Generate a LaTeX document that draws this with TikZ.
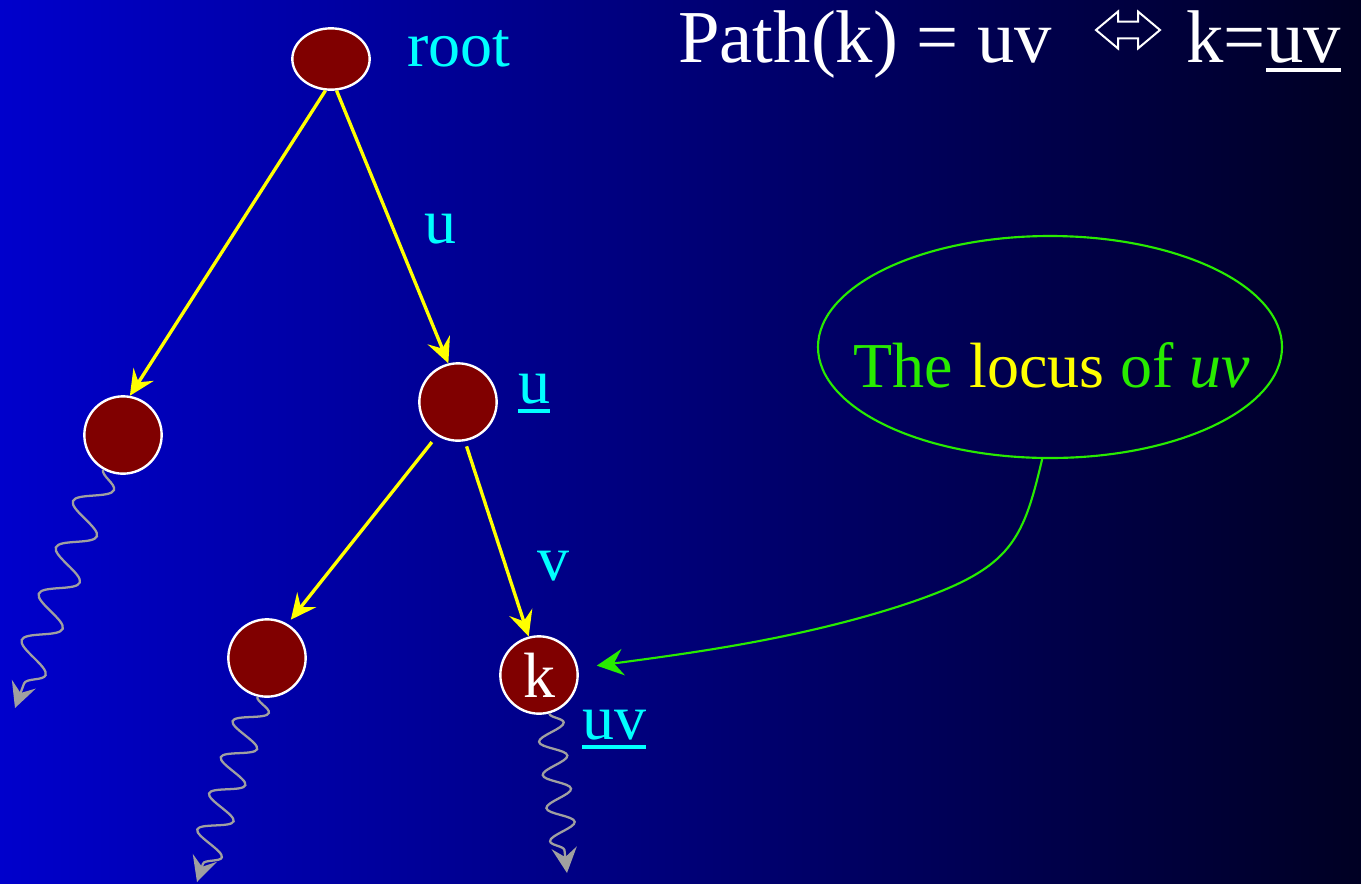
\documentclass[tikz,border=0pt]{standalone}
\usepackage{fontspec}
\setmainfont{Liberation Serif}
\usetikzlibrary{shapes.geometric,shapes.arrows,arrows.meta,decorations.pathmorphing}
\definecolor{bgL}{RGB}{0,0,204}
\definecolor{bgR}{RGB}{0,0,35}
\definecolor{nodered}{RGB}{128,0,0}
\definecolor{yel}{RGB}{255,255,0}
\definecolor{cyanc}{RGB}{0,255,255}
\definecolor{grn}{RGB}{40,235,0}
\definecolor{wgray}{RGB}{160,160,160}
\newcommand{\myul}[1]{\leavevmode\setbox0=\hbox{#1}\rlap{\rule[-7.5pt]{\wd0}{3pt}}\box0}
\tikzset{
  treenode/.style={circle, fill=nodered, draw=white, line width=1.8pt, minimum size=58pt, inner sep=0pt},
  rootnode/.style={ellipse, fill=nodered, draw=white, line width=1.8pt, minimum width=58pt, minimum height=46pt, inner sep=0pt},
  yarrow/.style={draw=yel, line width=2.5pt, -{Stealth[length=19pt,width=18pt,inset=7pt]}},
  wave/.style={draw=wgray, line width=1.7pt, decorate, -{Stealth[length=19pt,width=19pt,inset=7pt]}},
  lbl/.style={font=\fontsize{48}{56}\selectfont, text=cyanc, inner sep=0pt, anchor=base west},
  titletext/.style={font=\fontsize{56}{64}\selectfont, text=white, inner sep=0pt},
  gline/.style={draw=grn, line width=1.6pt},
}
\begin{document}
\begin{tikzpicture}[x=0.75pt,y=-0.75pt]
\useasboundingbox (0,0) rectangle (1361,883);
\shade[left color=bgL, right color=bgR] (0,0) rectangle (1361,883);

% tree nodes
\node[rootnode] (root) at (331,59) {};
\node[treenode] (left) at (123,435) {};
\node[treenode] (u) at (458,402) {};
\node[treenode] (bl) at (267,658) {};
\node[treenode, text=white, font=\fontsize{48}{56}\selectfont] (k) at (539,675) {k};

% labels
\node[lbl] (rootlab) at (407,66) {root};
\node[lbl] (ulab) at (424,243) {u};
\node[lbl] (vlab) at (537,580) {v};
\node[lbl] (uul) at (518,403) {\myul{u}};
\node[lbl] (uvul) at (582,739) {\myul{uv}};

% yellow edges
\draw[yarrow] (root.260) -- (left.80);
\draw[yarrow] (root.280) -- (u.104);
\draw[yarrow, shorten <=6pt, shorten >=4pt] (u.238) -- (bl.59);
\draw[yarrow, shorten <=4pt] (u.280) -- (k.105);

% wavy continuations
\coordinate (w1) at (15,708);
\coordinate (w2) at (197,882);
\coordinate (w3) at (567,873);
\draw[wave, decoration={snake, amplitude=13pt, segment length=37pt, post length=10pt}] (left.240) -- (w1);
\draw[wave, decoration={snake, amplitude=12pt, segment length=28.5pt, post length=10pt}] (bl.256) -- (w2);
\draw[wave, decoration={snake, amplitude=10pt, segment length=25pt, post length=10pt}] (k.285) -- (w3);

% title
\node[titletext, anchor=base west] (t1) at (678,62) {Path(k) = uv};
\node[double arrow, draw=white, line width=1.5pt, inner xsep=0pt, inner ysep=5.6pt,
      text height=0pt, text depth=0pt, text width=0pt, minimum height=48pt,
      double arrow head extend=7.5pt, double arrow tip angle=80] (iff) at (1128,30) {};
\node[titletext, anchor=base east] (t2) at (1341,62) {k=\myul{uv}};

% locus bubble
\node[ellipse, gline, minimum width=348pt, minimum height=166.5pt, inner sep=0pt] (locus) at (1050,347) {};
\node[font=\fontsize{48}{56}\selectfont, inner sep=0pt, anchor=base] (ltext) at (1052,387)
  {\color{grn}The \color{yel}locus \color{grn}of \textit{uv}};
\draw[gline, shorten >=14pt, -{Stealth[length=20pt,width=20pt,inset=7pt]}]
  (locus.266) .. controls (1022,545) and (1010,570) .. (900,606)
  .. controls (800,638) and (700,652) .. (k.10);
\end{tikzpicture}
\end{document}
